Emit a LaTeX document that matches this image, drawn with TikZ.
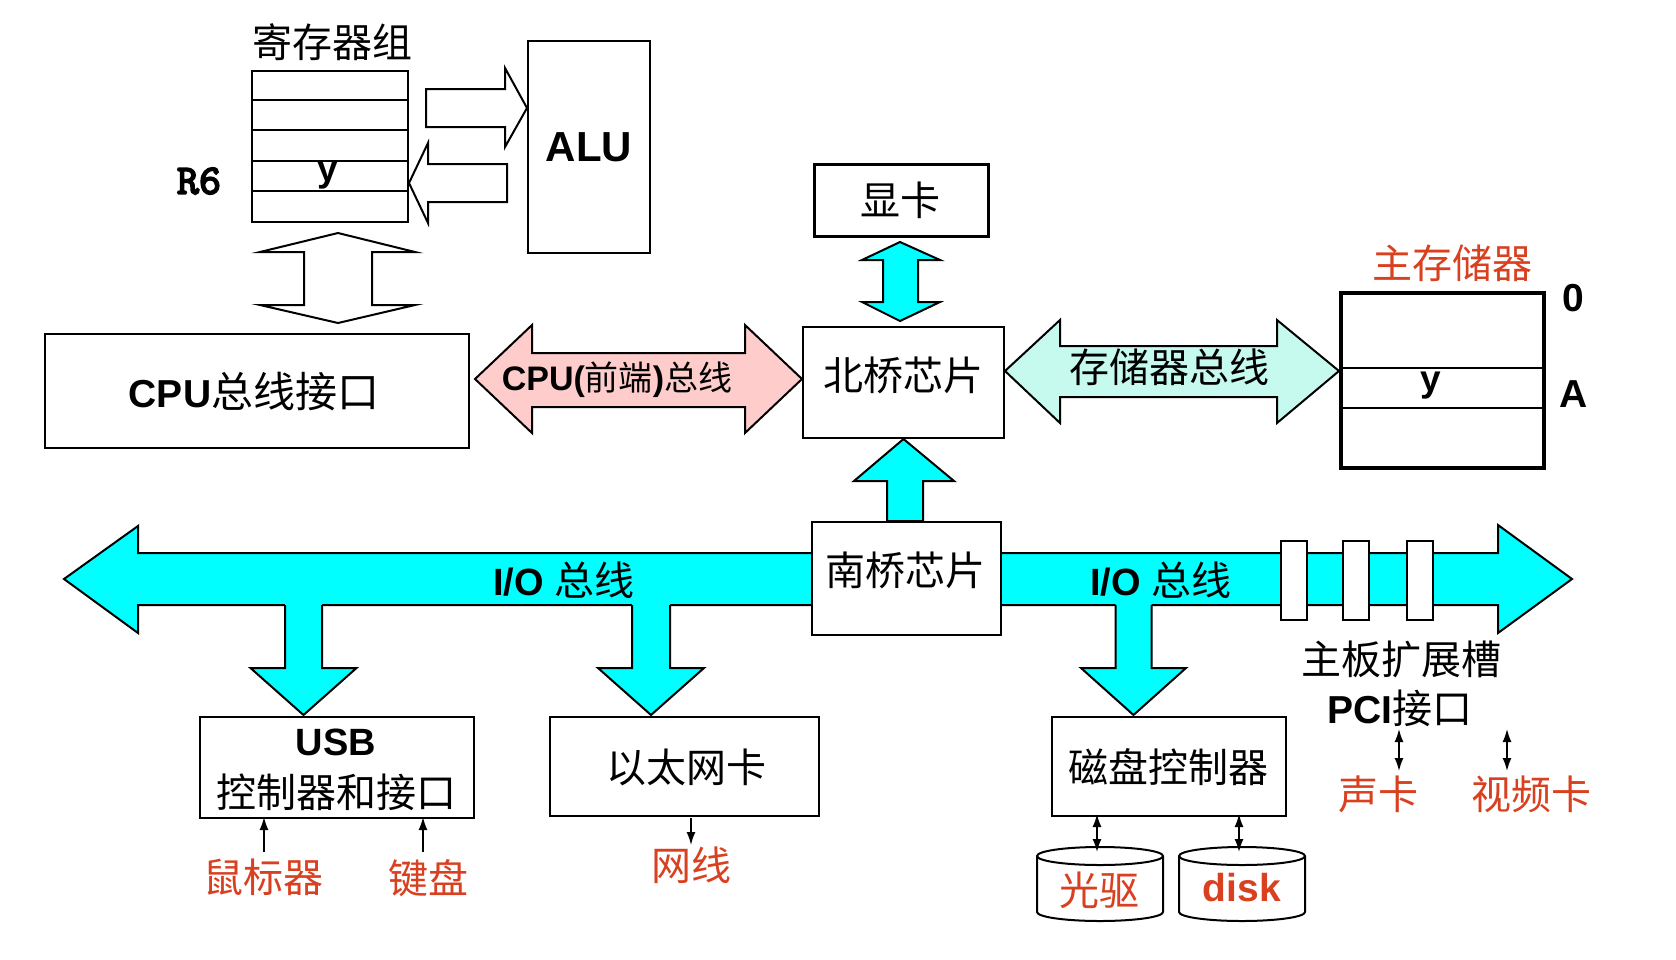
\documentclass[tikz,border=0pt]{standalone}
\usepackage{fontspec}
\setmainfont{Liberation Sans}
\newfontfamily\cjk{Noto Sans CJK SC}
\newfontfamily\monob[FakeBold=4]{lmmono10-regular.otf}
\usetikzlibrary{arrows.meta}
\definecolor{busc}{RGB}{0,255,255}
\definecolor{pinkc}{RGB}{255,204,204}
\definecolor{mintc}{RGB}{198,250,238}
\definecolor{redc}{RGB}{216,64,32}
\newcommand\fsz[1]{\fontsize{#1}{#1}\selectfont}
\tikzset{
  box/.style={draw, line width=2pt, fill=white, inner sep=0pt, anchor=north west},
  zh/.style={font=\cjk\fsz{40}, inner sep=0pt},
  en/.style={font=\bfseries\fsz{39}, inner sep=0pt},
  redtxt/.style={text=redc},
  blk/.style={draw, line width=2pt, line join=miter},
  sarr/.style={line width=1.6pt, -{Latex[length=13pt,width=9pt]}},
  darr/.style={line width=1.6pt, {Latex[length=13pt,width=9pt]}-{Latex[length=13pt,width=9pt]}},
}
\begin{document}
\begin{tikzpicture}[x=1pt,y=-1pt]
\useasboundingbox[fill=white] (0,0) rectangle (1676,959);

% ---------- register file ----------
\node[zh] (regt) at (332,42) {寄存器组};
\node[box, minimum width=156pt, minimum height=151pt] (reg) at (251,70) {};
\foreach \yy in {100,130,161,191} \draw[line width=2pt] (251,\yy) -- (407,\yy);
\node[en, font=\bfseries\fsz{37}] (regy) at (328,176) {y};
\node[inner sep=0pt, font=\monob\fsz{42}] (r6) at (199,181) {R6};

% ---------- ALU ----------
\node[box, minimum width=122pt, minimum height=212pt] (alu) at (527,40) {};
\node[en, font=\bfseries\fsz{42}] (alut) at (alu.center) {ALU};

% hollow arrows between registers and ALU
\draw[blk, fill=white] (426,89) -- (505,89) -- (505,68) -- (alu.west |- 0,108) -- (505,147) -- (505,127) -- (426,127) -- cycle;
\draw[blk, fill=white] (507,164) -- (428,164) -- (428,143) -- (reg.east |- 0,183) -- (428,223) -- (428,202) -- (507,202) -- cycle;

% hollow double arrow register <-> CPU bus interface
\draw[blk, fill=white] (338,233) -- (415,252) -- (372,252) -- (372,305) -- (415,305) -- (338,323) -- (260,305) -- (304,305) -- (304,252) -- (260,252) -- cycle;

% ---------- CPU bus interface ----------
\node[box, minimum width=424pt, minimum height=114pt] (cpu) at (44,333) {};
\node[inner sep=0pt] (cput) at (254,392) {\bfseries\fsz{39}CPU\cjk\mdseries\fsz{42}总线接口};

% ---------- north bridge ----------
\node[box, minimum width=201pt, minimum height=111pt] (nb) at (802,326) {};
\node[zh] (nbt) at (903,375) {北桥芯片};

% CPU front-side bus
\draw[blk, fill=pinkc] (cpu.east |- 0,379) ++(5,0) -- (532,325) -- (532,353) -- (745,353) -- (745,325) -- (nb.west |- 0,379) -- (745,433) -- (745,407) -- (532,407) -- (532,433) -- cycle;
\node[inner sep=0pt] (fsbt) at (617,380) {\bfseries\fsz{34}CPU(\cjk\mdseries\fsz{34}前端\rmfamily\bfseries)\cjk\mdseries 总线};

% ---------- graphics card ----------
\node[box, line width=3pt, minimum width=174pt, minimum height=72pt] (gpu) at (813,163) {};
\node[zh] (gput) at (900,200) {显卡};
\draw[blk, fill=busc] (900,242) -- (940,260) -- (918,260) -- (918,302) -- (940,302) -- (900,321) -- (862,302) -- (883,302) -- (883,260) -- (862,260) -- cycle;

% ---------- main memory ----------
\node[zh, redtxt] (memt) at (1452,263) {主存储器};
\node[box, line width=4pt, minimum width=203pt, minimum height=175pt] (mem) at (1339,291) {};
\draw[line width=2pt] (1339,368) -- (1542,368);
\draw[line width=2pt] (1339,408) -- (1542,408);
\node[en, font=\bfseries\fsz{37}] (memy) at (1431,386) {y};
\node[en] (addr0) at (1573,298) {0};
\node[en] (addrA) at (1574,394) {A};

% memory bus
\draw[blk, fill=mintc] (nb.east |- 0,371) -- (1060,320) -- (1060,346) -- (1277,346) -- (1277,320) -- (mem.west |- 0,371) -- (1277,423) -- (1277,397) -- (1060,397) -- (1060,423) -- cycle;
\node[zh] (mbt) at (1169,367) {存储器总线};

% ---------- I/O bus ----------
\draw[blk, fill=busc] (64,579) -- (138,526) -- (138,553) -- (1498,553) -- (1498,525) -- (1572,579) -- (1498,633) -- (1498,605) -- (138,605) -- (138,633) -- cycle;
\node[inner sep=0pt] (io1) at (564,580) {\bfseries\fsz{38}I/O \cjk\mdseries\fsz{40}总线};
\node[inner sep=0pt] (io2) at (1161,580) {\bfseries\fsz{38}I/O \cjk\mdseries\fsz{40}总线};

% expansion slots
\foreach \sx/\sn in {1280/s1,1342/s2,1406/s3}
  \node[box, minimum width=26pt, minimum height=79pt] (\sn) at (\sx,540) {};

% ---------- south bridge ----------
\node[box, minimum width=189pt, minimum height=113pt] (sb) at (811,521) {};
\node[zh] (sbt) at (905,570) {南桥芯片};
\draw[blk, fill=busc] (887,521) -- (887,481) -- (854,481) -- (nb.south) -- (954,481) -- (923,481) -- (923,521) -- cycle;

% ---------- devices ----------
\node[box, minimum width=274pt, minimum height=101pt] (usb) at (199,716) {};
\node[en, font=\bfseries\fsz{38}] (usbt1) at (336,742) {USB};
\node[zh] (usbt2) at (336,792) {控制器和接口};

\node[box, minimum width=269pt, minimum height=99pt] (eth) at (549,716) {};
\node[zh] (etht) at (686,767) {以太网卡};

\node[box, minimum width=234pt, minimum height=99pt] (dc) at (1051,716) {};
\node[zh] (dct) at (1168,767) {磁盘控制器};

% down arrows from the I/O bus
\foreach \cx/\bw/\hw in {303.5/18.5/53, 651/19/53, 1133.5/18/52.5}{
  \fill[busc] (\cx-\bw,598) -- (\cx-\bw,668) -- (\cx-\hw,668) -- (\cx,715) -- (\cx+\hw,668) -- (\cx+\bw,668) -- (\cx+\bw,598) -- cycle;
  \draw[blk] (\cx-\bw,605) -- (\cx-\bw,668) -- (\cx-\hw,668) -- (\cx,715) -- (\cx+\hw,668) -- (\cx+\bw,668) -- (\cx+\bw,605);
}

% USB peripherals
\node[zh, redtxt] (mouse) at (263,877) {鼠标器};
\node[zh, redtxt] (kbd) at (428,878) {键盘};
\draw[sarr] (264,852) -- (264,817);
\draw[sarr] (423,852) -- (423,817);

% network cable
\node[zh, redtxt] (cable) at (691,865) {网线};
\draw[sarr] (691,818) -- (691,845);

% PCI
\node[zh] (slott) at (1401,659) {主板扩展槽};
\node[inner sep=0pt] (pcit) at (1400,708) {\bfseries\fsz{39}PCI\cjk\mdseries\fsz{40}接口};
\draw[darr] (1399,729) -- (1399,771);
\draw[darr] (1507,729) -- (1507,771);
\node[zh, redtxt] (sound) at (1378,794) {声卡};
\node[zh, redtxt] (video) at (1531,794) {视频卡};

% disks (cylinders)
\foreach \cx/\cn in {1100/cd,1242/hd}{
  \draw[line width=2pt, fill=white] (\cx-63,856) -- (\cx-63,912) arc[start angle=180, end angle=360, x radius=63pt, y radius=9pt] -- (\cx+63,856) arc[start angle=0, end angle=180, x radius=63pt, y radius=9pt] -- cycle;
  \draw[line width=2pt] (\cx-63,856) arc[start angle=180, end angle=360, x radius=63pt, y radius=9pt];
  \coordinate (\cn) at (\cx,847);
}
\node[zh, redtxt] (cdt) at (1099,890) {光驱};
\node[en, redtxt] (hdt) at (1242,888) {disk};
\draw[darr] (1097,814) -- (1097,852);
\draw[darr] (1239,814) -- (1239,852);
\end{tikzpicture}
\end{document}
